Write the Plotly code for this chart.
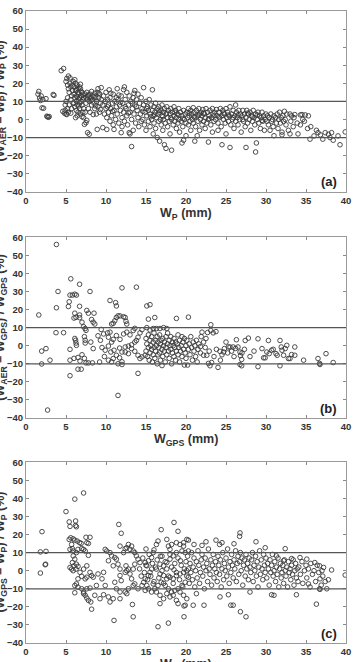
import plotly.graph_objects as go

# ---------------- data ----------------
# panel (a): W_P (mm) vs (W_AER - W_P)/W_P (%)
pts_a = [
    (1.5,14),(1.6,15.5),(1.7,11.8),(1.8,10.5),(1.9,13),(2.0,6.4),(2.2,6.2),(2.1,11),(2.5,11.5),(2.6,1.8),(2.7,1.5),(2.8,1.2),(2.9,1.6),(3.5,13.3),(3.4,13.8),
    (4.4,27),(4.7,28.2),(4.6,4.5),(4.8,3.5),(4.9,5),(5.0,21),(5.1,22.7),(5.2,19),(5.3,17),(5.0,3),(5.1,2.7),(5.3,4),(5.4,8),(5.2,12),(5.4,15),(5.5,20),(5.5,23),(5.3,24),(5.6,18),(5.6,11),(5.7,6),(5.6,3.5),(5.8,16),(5.9,21),(5.9,9),(5.2,6),(5.7,13),(5.8,19),(5.0,10),(4.9,8),
    (6.0,14),(6.0,18),(6.1,7),(6.1,12),(6.2,20),(6.2,16),(6.3,5),(6.3,10),(6.3,13),(6.4,19),(6.4,8),(6.5,15),(6.5,17),(6.5,4),(6.6,11),(6.6,14),(6.7,12),(6.7,9),(6.7,6),(6.8,17),(6.8,3),(6.9,13),(6.9,10),(7.0,15),(7.0,8),(7.0,1.5),(7.1,11),(7.1,14),(7.2,6),(7.2,12),(6.1,22),(6.4,2),(6.8,19.5),(6.2,1),(7.2,1),(7.3,-2.7),(7.5,-1.8),(7.7,-7.3),(7.9,-8.2),(7.6,-0.5),(6.0,9),(6.3,16.5),(6.6,7.5),(6.9,15.5),(7.1,4),(6.4,12.5),(6.7,18),
    (7.4,14),(7.5,12),(7.5,9),(7.6,15),(7.7,11),(7.8,13.5),(7.8,6),(7.9,10),(8.0,14),(8.0,4),(8.1,12),(8.2,8),(8.2,15.5),(8.3,11),(8.4,13),(8.4,2.7),(8.5,9),(8.6,14.5),(8.6,6),(8.7,12),(8.8,3),(8.8,10),(8.9,15),(9.0,17),(9.0,7),(9.1,12),(9.2,4),(9.2,14),(9.3,9),(9.4,11),(9.4,17.6),(8.9,-5.5),(9.6,-4.5),(10.1,-5.5),(7.4,4),(7.7,13),(8.1,10.5),(8.5,12.5),(8.7,7.5),(9.1,14.5),(9.3,5.5),
    (9.6,8),(9.7,13),(9.8,3),(9.9,10),(10.0,6),(10.0,15),(10.1,1),(10.2,11),(10.3,4),(10.3,8),(10.4,16.4),(10.5,-1),(10.5,12),(10.6,6),(10.7,2),(10.8,9),(10.9,-3),(10.9,14),(11.0,5),(11.1,10),(11.2,0),(11.3,7),(11.4,17),(11.4,3),(11.5,11),(11.6,-2),(11.7,8),(11.8,5),(11.9,-7.3),(11.9,13),(12.0,1),(12.1,9),(12.2,4),(12.3,18),(12.3,-1),(12.4,11),(12.5,6),(12.6,2),(12.6,15),(12.7,-3),(12.8,8),(12.9,13),(12.9,-7.3),(13.0,4),(13.1,10),(13.2,-15),(13.2,0),(13.3,6),(13.4,12),(13.4,-6),(13.5,3),(13.6,16),(13.6,8),(13.7,-2),(13.8,11),(13.9,5),(14.0,14),(14.0,1),(10.6,14.5),(11.0,-5.5),(12.0,-4),(13.0,-8),(14.1,-4),(12.2,16.5),(11.6,13.5),(10.2,7),(10.8,4.5),(11.3,12),(11.8,9.5),(12.4,7),(12.8,3.5),(13.3,9),(13.8,7),(13.5,14.5),
    (14.2,9),(14.3,3),(14.4,-1),(14.4,12),(14.5,6),(14.6,0),(14.7,17.6),(14.7,8),(14.8,-3),(14.9,4),(15.0,10),(15.0,-6),(15.1,2),(15.2,7),(15.3,-1),(15.3,5),(15.4,11),(15.5,-4),(15.5,3),(15.6,8),(15.7,0),(15.8,16.4),(15.8,5),(15.9,-8),(15.9,2),(16.0,-2),(16.0,7),(16.1,4),(16.2,-5),(16.2,9),(16.3,1),(16.4,6),(16.4,-10),(16.5,3),(16.6,-1),(16.6,7),(16.7,-12),(16.7,4),(16.8,0),(16.9,5),(16.9,-3),(17.0,8),(17.0,2),(17.1,-6),(17.2,4),(17.2,0),(17.3,6),(17.3,-14),(17.4,-2),(17.5,3),(17.5,-16),(17.6,7),(17.7,1),(17.7,-4),(17.8,5),(17.9,-1),(18.0,3),(18.0,-8),(18.1,6),(18.2,0),(18.2,-17),(18.3,4),(18.4,-3),(18.5,2),(18.5,7),(18.6,-1),(18.7,5),(18.8,-5),(18.8,1),(18.9,3),(19.0,-2),(19.1,6),(19.1,0),(19.2,-7),(19.3,4),(19.4,-1),(19.5,2),(19.6,-4),(19.7,5),(19.8,0),(19.9,3),(20.0,-2),(20.0,-9),(19.5,-13),(19.7,-11.5),
    (14.6,4.5),(15.1,6),(15.6,1.5),(16.1,2.5),(16.6,5),(17.1,1.5),(17.6,3.5),(18.1,1),(18.6,4),(19.1,2.5),(19.6,0.5),
    (20.1,4),(20.2,1),(20.3,-3),(20.3,6),(20.4,2),(20.5,-1),(20.6,5),(20.6,-6),(20.7,3),(20.8,0),(20.9,6.5),(20.9,-2),(21.0,4),(21.1,1),(21.1,-12),(21.2,-4),(21.3,5),(21.4,2),(21.4,-9),(21.5,-1),(21.6,6),(21.7,3),(21.7,-6),(21.8,0),(21.9,4),(22.0,-3),(22.0,2),(22.1,5.5),(22.2,-1),(22.3,3),(22.4,-5),(22.4,1),(22.5,6),(22.6,-2),(22.7,4),(22.8,0),(22.8,-12.5),(22.9,2),(23.0,5),(23.1,-3),(23.2,1),(23.3,6),(23.3,-7),(23.4,3),(23.5,-1),(23.6,4),(23.7,0),(23.8,5.5),(23.9,2),(24.0,-2),(24.0,-6),(24.1,4),(24.2,1),(24.3,6),(24.4,-4),(24.5,2),(24.5,-14),(24.6,5),(24.7,0),(24.8,3),(24.9,-2),(25.0,6),(25.0,-8),(25.1,1),(25.2,4),(25.3,-1),(25.4,2),(25.5,-15.5),(25.5,7),(25.6,-3),(25.7,3),(25.8,0),(25.9,5),(26.0,-5),(26.1,2),(26.2,8),(26.2,-1),(26.3,4),(26.4,1),(26.5,-3),(26.6,5),(26.7,0),(26.8,3),(26.9,-7),(27.0,2),(27.1,5),(27.2,-1),(27.3,3),(27.4,-4),(27.5,-15.5),(27.5,1),(27.6,5),(27.7,-2),(27.8,3),(27.9,0),(28.0,4),(28.1,-6),(28.2,2),(28.3,-1),(28.4,5),(28.5,1),(28.6,-3),(28.7,-18),(28.7,3),(28.8,-13),(28.9,0),(29.0,4),(29.1,-2),(29.2,2),(29.3,-5),(29.4,1),(29.5,4),(29.6,-1),(29.7,2),(29.8,-6),(29.9,0),(30.0,3),
    (20.4,3.5),(21.0,1.5),(21.6,2.5),(22.2,3.5),(22.9,0.5),(23.5,2),(24.1,1.5),(24.7,3.5),(25.3,2.5),(25.9,1),(26.5,2.5),(27.1,0),(27.7,3.5),(28.3,1.5),(28.9,2.5),(29.5,-0.5),
    (30.1,-1),(30.2,2),(30.3,-3),(30.4,1),(30.5,-6),(30.6,3),(30.7,-1),(30.8,0),(30.9,-4),(31.0,2),(31.0,-9),(31.2,1),(31.3,-2),(31.4,3),(31.5,-5),(31.6,0),(31.7,4),(31.8,-2),(31.9,1),(32.0,-7),(32.1,2),(32.2,-1),(32.3,4.5),(32.4,0),(32.5,-3),(32.6,3),(32.8,-6),(33.0,3),(33.1,-1),(33.2,2),(33.4,-4),(33.5,1),(33.6,2.7),(33.9,-2),(34.0,-8),(34.3,2.5),(34.5,2.7),(34.3,-3),(34.6,0),(34.9,2.5),(35.3,2),(35.2,-5),(33.0,-8),(32.0,-8.5),(34.8,-1),
    (35.5,-10.9),(36.0,-9.1),(36.3,-6),(36.5,-7.3),(37.1,-10.9),(37.4,-7.3),(37.8,-8.2),(38.0,-10),(38.2,-7.3),(38.4,-11.5),(39.0,-9.1),(39.25,-14),(39.9,-6.9),(35.6,-4),(36.8,-8.5),
]

# panel (b): W_GPS (mm) vs (W_AER - W_GPS)/W_GPS (%)
pts_b = [
    (1.6,17),(1.96,-3),(2.5,-1.6),(1.96,-10.1),(3.0,-8),(3.75,7.2),(4.7,7.2),(3.8,21),(4.0,30),(3.8,56),(2.7,-35.6),(5.6,37),(5.5,28),(5.8,28),(6.1,28.5),(6.3,28),(5.4,24.3),(5.3,21.7),(6.7,34),(8.0,30),(6.1,18),(6.25,15.7),(6.0,15.3),(6.7,21.8),(6.7,17),(6.7,15.5),(7.6,19.5),(7.8,18),(8.5,18),(8.2,14.5),(8.4,13),(8.6,12),(7.0,13),(7.2,10.5),(7.4,9.5),(7.5,8.5),(7.3,5),(7.4,3),(7.4,1.5),(6.1,4),(6.2,3),(6.25,1.5),(6.3,0.2),(5.5,-2),(5.5,-8),(6.0,-7),(6.5,-6.5),(6.75,-8.5),(7.0,-5),(7.3,-7),(7.5,-9.5),(6.5,-13),(6.9,-13),(5.5,-16.6),(8.1,2),(8.4,-1.6),(7.8,-9.5),(8.3,-9.5),
    (9.7,6.5),(10.2,7.1),(10.5,7.5),(10.7,12),(10.9,12.4),(11.1,13.8),(11.3,15.6),(11.5,16.5),(11.75,16.5),(12.2,16),(12.4,15.6),(12.5,13.5),(12.6,12),(10.5,25),(11.2,23.8),(11.3,22),(12.0,32),(13.8,32.4),(11.5,-27.5),
    (10.3,4.7),(10.7,2),(10.9,3.5),(11.3,5.6),(11.75,3.5),(12.2,6.5),(12.6,7.5),(13.0,6),(13.4,8.4),(13.6,9.6),
    (9.9,-2.5),(10.3,-0.2),(10.6,-3.5),(11.0,-2.5),(11.7,-1.3),(12.0,-3.5),(12.4,-0.7),(12.8,-0.2),(13.2,0.5),(13.6,2),(13.8,2.9),(14.0,4.7),(14.25,7.1),(14.5,8.9),
    (10.3,-8),(10.7,-8.9),(10.9,-7.1),(11.3,-5.3),(11.7,-6.7),(12.0,-8.9),(12.4,-3.5),(12.8,-4.4),(13.2,-1.6),(13.6,-3.1),(14.0,-5.3),(14.25,-7.1),(14.5,-6.2),(14.9,-5.3),
    (11.5,-10),(12.0,-10.4),(14.0,-15.3),(9.0,5.5),(9.3,3),(9.5,-1),(9.8,-6),(9.4,9),(9.2,-9),
    (15.1,22),(15.5,22.7),(15.3,14.7),(16.1,15.6),(15.1,10),(15.5,8.7),(15.9,9.5),(16.3,9.5),(16.75,9.5),(17.2,10),(17.6,9.5),(18.8,15.1),(20.3,15.8),
    (15.0,4),(15.0,-3),(15.1,1),(15.2,-6),(15.3,6),(15.3,-1),(15.4,-8),(15.5,3),(15.5,-4),(15.6,0),(15.7,5),(15.7,-2),(15.8,-9),(15.9,2),(15.9,-5),(16.0,7),(16.0,-1),(16.1,-7),(16.2,3),(16.2,-3),(16.3,0),(16.4,5),(16.4,-10),(16.5,-5),(16.5,2),(16.6,-1),(16.7,6),(16.7,-4),(16.8,1),(16.8,-8),(16.9,3),(17.0,-2),(17.0,-11),(17.1,4),(17.1,-6),(17.2,0),(17.3,2),(17.3,-3),(17.4,-9),(17.5,5),(17.5,-1),(17.6,-5),(17.7,1),(17.7,7),(17.8,-3),(17.9,3),(17.9,-7),(18.0,0),(18.1,-2),(18.1,5),(18.2,-10),(18.3,2),(18.3,-4),(18.4,0),(18.5,-6),(18.5,4),(18.6,-1),(18.7,2),(18.7,-8),(18.8,-3),(18.9,1),(19.0,6),(19.0,-5),(19.1,-1),(19.2,3),(19.2,-9),(19.3,-3),(19.4,0),(19.5,5),(19.5,-6),(19.6,2),(19.7,-2),(19.8,-10.7),(19.8,4),(19.9,-4),(20.0,0),(20.0,-7),(20.1,3),(20.2,-10.7),(20.3,-2),(20.4,1),(20.5,-5),(20.6,5),(20.7,-1),(20.8,-8),(20.9,2),(21.0,-3),(21.1,0),(21.2,-6),(21.3,3),(21.4,-9),(21.5,-2),(21.6,1),(21.8,-4),(22.0,7.5),(21.9,5),
    (22.7,7.3),(23.1,11.6),(23.1,8.4),(23.4,7.1),(23.75,7.8),(22.2,-5.3),(22.6,-5.3),(22.8,-9.8),(23.0,-11.1),(23.2,-9.3),(24.0,-12),(24.25,-3.1),(24.7,-3.5),(24.8,-1.6),(25.0,2),(25.3,-0.7),(25.5,-0.7),(25.9,-0.7),(26.3,3.3),(26.5,-0.7),(26.75,-3.5),(26.8,-5.5),(26.96,-7.6),(26.75,-10.4),(26.96,-11.1),(27.4,2.9),(27.8,4.2),(29.0,3.8),(29.5,-1.6),(29.7,-6.7),(29.9,-6.7),(30.1,-3.5),(30.3,2.9),(30.4,-4.4),(30.7,-2.5),(30.9,-2),(31.25,-4.4),(31.4,-5.3),(31.75,2.9),(31.9,-0.7),(32.0,-2.5),(32.2,-5.3),(32.4,-1.6),(32.6,0.2),(32.8,-7.1),(33.0,-7.1),(33.2,-4.9),(33.6,-0.7),(33.6,-5.3),(31.75,-11.1),(29.0,-11.6),(34.7,-8),(36.5,-7.1),(36.7,-9.8),(36.75,-10.4),(37.5,-4.4),(38.4,-9.3),
    (22.4,-1),(22.9,-3),(23.5,-6),(23.8,-2),(24.3,-8),(24.5,-5),(25.2,-4),(25.7,-3),(26.0,-6),(26.2,-1.5),(27.0,-4),(27.3,-2),(28.0,-6),(28.5,-3),(22.2,2),(21.8,-0.5),(22.5,4),
]

# panel (c): W_P (mm) vs (W_GPS - W_P)/W_P (%)
pts_c = [
    (1.8,-1.3),(1.8,10.4),(2.0,21.6),(2.5,10.7),(2.4,3.3),(2.45,3.6),
    (5.0,32.7),(6.1,39.6),(7.2,43),(5.4,27),(5.5,24.5),(6.2,27.5),(6.2,25),(6.3,24.3),(7.5,18.5),
    (5.4,17.3),(5.6,18.2),(5.9,17.6),(6.1,16.9),(6.4,16.4),(6.7,15.5),(6.9,15.1),(5.7,14.5),(5.8,12.2),(5.5,11.8),(5.9,10.9),(6.5,11.8),(6.3,10),(6.96,12.2),(7.2,11.8),(7.4,10.9),(7.6,15.5),(7.8,15.1),(8.0,18.5),(7.8,8.5),
    (5.9,8.2),(6.1,6.4),(5.8,4.5),(6.0,2.7),(6.3,3.6),(6.5,2.4),(6.25,0.9),(5.7,0.9),(5.5,1.8),(5.9,0),(6.75,-0.9),(7.2,0.9),(7.6,2.7),(8.0,-0.9),(8.2,-2.7),(7.6,-3.6),(7.4,-4.5),(6.96,-3.1),(6.5,-4.5),(6.3,-7.3),(6.1,-8.2),(6.5,-9.1),(6.96,-10),(7.6,-10),(8.0,-9.6),(7.2,-12.7),(7.4,-13.6),(7.6,-15.1),(7.8,-16.4),(8.1,-17.3),(8.2,-21.3),(7.2,-11.8),(6.1,-12.2),(8.8,-8.2),(8.6,-13.6),(8.4,-3.6),(9.0,-1.8),(9.7,-0.9),(9.5,-4.5),(9.9,-8.2),
    (9.9,11.8),(10.1,10.9),(10.5,10),(10.7,8.2),(11.1,7.3),(11.3,6.4),(10.3,5.5),(10.9,2.7),(11.5,3.6),(11.75,0.9),(11.75,13.6),(11.75,-2.7),(11.1,-6.4),(11.3,-10),(11.75,-11.8),(10.9,-15.5),(10.5,-17.3),(10.3,-14.5),(9.7,-13.3),(9.25,-15.5),(11.75,-15.5),(11.9,-5.5),(12.4,-0.9),(12.6,0),(12.8,0.9),(12.5,2.7),(12.2,10),(12.4,12.2),(12.6,12.7),(13.0,11.8),(12.8,14.5),(13.2,13.6),(13.4,10.9),(13.6,10),(13.8,8.2),(14.0,6.4),(14.25,4.5),(13.6,3.6),(13.4,0.9),(13.0,-1.8),(13.2,-4.5),(13.6,-7.3),(14.0,-10),(13.4,-8.2),(12.8,-10),(12.4,-11.8),(12.6,-12.7),(13.3,-18.7),(13.4,-25.5),(11.0,-27.5),(11.6,25.6),(11.9,20.7),
    (14.5,-8.2),(14.7,-6.4),(14.9,-4.5),(15.1,-8.2),(15.3,-2.7),(15.5,-0.9),(15.7,0.9),(15.1,2.7),(14.9,4.5),(15.3,5.5),(15.7,7.3),(15.9,10),(16.3,14.5),(16.5,16.4),(16.9,22.7),(17.6,17.3),(17.8,13.6),(18.0,11.8),(18.2,14.5),(18.5,26.7),(19.0,21.8),(18.8,15.5),(19.25,14.5),(19.7,15.5),(20.1,17.3),(20.3,10.9),(19.9,10),(19.5,10.9),(18.8,10),(18.4,8.2),(18.0,6.4),(17.6,4.5),(17.2,2.7),(16.75,3.6),(16.3,0.9),(16.75,-1.8),(17.2,-2.7),(17.6,-4.5),(18.0,-3.6),(18.4,-4.5),(18.8,-2.7),(19.25,-1.8),(19.7,-0.9),(20.1,0),(20.3,-3.6),(19.9,-6.4),(19.5,-8.2),(19.0,-10),(18.6,-10.9),(18.2,-11.8),(17.8,-10),(17.4,-8.2),(16.9,-6.4),(16.5,-8.2),(16.1,-10),(16.3,-11.8),(16.75,-13.6),(17.2,-15.5),(17.6,-12.7),(18.0,-14.5),(18.4,-13.6),(18.8,-16.4),(19.25,-11.8),(19.7,-13.6),(20.1,-15.5),(19.9,-19.1),(19.0,-18.2),(16.75,-18.2),(15.9,-7.3),(15.7,-11.8),(15.3,-10),(14.9,-10.9),(16.5,-31),(17.8,-29),(19.75,-25.5),
    (14.2,1),(14.4,-3),(14.6,7),(14.8,-1),(15.0,3),(15.2,-5),(15.4,9),(15.6,-3),(15.8,4),(16.0,-6),(16.2,2),(16.4,6),(16.6,-4),(16.8,8),(17.0,0),(17.2,-7),(17.4,5),(17.6,1),(17.8,-3),(18.0,9),(18.2,2),(18.4,-7),(18.6,4),(18.8,-1),(19.0,7),(19.2,-5),(19.4,3),(19.6,-9),(19.8,1),(15.0,12),(16.0,11.5),(17.0,8),(18.5,0.5),(19.3,5.5),
    (20.3,16.9),(22.5,16),(23.75,16.9),(24.2,14.5),(24.5,15.5),(26.0,14.9),(26.75,20.9),(26.7,19),(28.75,16),(29.9,12.7),(32.4,12.2),(22.0,14),(21.0,14.5),(19.7,13.6),(19.75,-19.5),(20.9,-19.1),(22.25,-19.1),(25.6,-19.1),(25.9,-19.1),(26.8,-22.7),(27.5,-25.5),(24.25,-14.5),(21.3,-12.7),(25.3,-13.3),(28.0,-11.8),(30.7,-13.3),(31.0,-13.6),(33.8,-13.3),(36.3,-18.5),(36.7,-10),(36.75,-10.3),(37.6,-10),(38.2,0.4),(39.9,-2.4),(35.3,-7.3),(36.75,-4.5),(37.0,0),(37.2,1.8),(36.7,2.7),(36.1,4.5),(35.1,6.4),(34.25,7.3),(33.2,6.7),(32.2,5.5),(31.3,8.2),
    (20.0,5),(20.1,-3),(20.2,8),(20.3,1),(20.4,-7),(20.5,4),(20.6,-1),(20.7,10),(20.8,-5),(20.9,2),(21.0,7),(21.1,-9),(21.2,0),(21.3,5),(21.4,-4),(21.5,11),(21.6,3),(21.7,-7),(21.8,-1),(21.9,6),(22.0,9),
    (22.1,-3),(22.2,2),(22.3,-10),(22.4,7),(22.5,0),(22.6,4),(22.7,-6),(22.8,12),(22.9,1),(23.0,-2),(23.1,6),(23.2,-8),(23.3,3),(23.4,9),(23.5,-4),(23.6,1),(23.7,5),(23.8,-1),(23.9,-6),(24.0,8),
    (24.1,3),(24.2,-2),(24.3,6),(24.4,-9),(24.5,1),(24.6,10),(24.7,-5),(24.8,4),(24.9,0),(25.0,7),(25.1,-3),(25.2,12),(25.3,2),(25.4,-7),(25.5,5),(25.6,-1),(25.7,9),(25.8,3),(25.9,-4),(26.0,6),
    (26.1,1),(26.2,11),(26.3,-6),(26.4,4),(26.5,8),(26.6,-2),(26.7,5),(26.8,10),(26.9,0),(27.0,7),(27.1,-8),(27.2,3),(27.3,6),(27.4,-3),(27.5,9),(27.6,1),(27.7,4),(27.8,-5),(27.9,7),(28.0,2),
    (28.1,-1),(28.2,6),(28.3,10),(28.4,-6),(28.5,3),(28.6,0),(28.7,8),(28.8,-3),(28.9,5),(29.0,-9),(29.1,2),(29.2,11),(29.3,-2),(29.4,6),(29.5,1),(29.6,-5),(29.7,9),(29.8,3),(29.9,-1),(30.0,7),
    (30.1,-4),(30.2,4),(30.3,1),(30.4,-8),(30.5,6),(30.6,-1),(30.7,3),(30.8,9),(30.9,-3),(31.0,0),(31.1,5),(31.2,-6),(31.3,2),(31.4,-2),(31.5,7),(31.6,-9),(31.7,1),(31.8,4),(31.9,-4),(32.0,-1),
    (32.1,3),(32.2,-7),(32.3,6),(32.4,0),(32.5,-3),(32.6,2),(32.7,-9),(32.8,5),(32.9,-1),(33.0,1),(33.1,-5),(33.2,3),(33.3,-2),(33.4,6),(33.5,-8),(33.6,0),(33.7,4),(33.8,-4),(33.9,1),(34.0,-6),
    (34.1,2),(34.3,-2),(34.5,5),(34.6,-7),(34.8,0),(35.0,3),(35.1,-4),(35.3,1),(35.5,-9),(35.6,4),(35.8,-2),(36.0,0),(36.2,-6),(36.4,3),(36.6,-1),(36.9,-8),(37.1,-3),(37.4,-6),(37.8,-5),
]

x_range = [0, 40]
y_range = [-40, 60]
x_ticks = [0, 5, 10, 15, 20, 25, 30, 35, 40]
y_ticks = [-40, -30, -20, -10, 0, 10, 20, 30, 40, 50, 60]
limit_lines = [10, -10]

x_titles = ["W<sub>P</sub> (mm)", "W<sub>GPS</sub> (mm)", "W<sub>P</sub> (mm)"]
y_titles = ["(W<sub>AER</sub> – W<sub>P</sub>) / W<sub>P</sub> (%)",
            "(W<sub>AER</sub> – W<sub>GPS</sub>) / W<sub>GPS</sub> (%)",
            "(W<sub>GPS</sub> – W<sub>P</sub>) / W<sub>P</sub> (%)"]
panel_labels = ["(a)", "(b)", "(c)"]

# ---------------- figure ----------------
domains = [[0.714, 1.0], [0.356, 0.642], [0.0, 0.286]]
FONT = "Liberation Sans, Arial, sans-serif"

fig = go.Figure()
annotations = []
shapes = []
all_pts = [pts_a, pts_b, pts_c]

for i, pts in enumerate(all_pts):
    n = "" if i == 0 else str(i + 1)
    xs = [p[0] for p in pts]
    ys = [p[1] for p in pts]
    fig.add_trace(go.Scatter(
        x=xs, y=ys, mode="markers", xaxis="x" + n, yaxis="y" + n,
        marker=dict(symbol="circle-open", size=4.6, color="#3a3a3a",
                    line=dict(width=0.9)),
        showlegend=False, hoverinfo="skip"))
    common = dict(showline=True, linecolor="#9a9a9a", linewidth=1, mirror="ticks",
                  ticks="inside", ticklen=3, tickcolor="#8a8a8a", tickwidth=1,
                  showgrid=False, zeroline=False,
                  tickfont=dict(family=FONT, size=9.5, color="#333333", weight="bold"))
    fig.layout["xaxis" + n] = dict(common, range=x_range, tickvals=x_ticks,
                                   domain=[0, 1], anchor="y" + n)
    fig.layout["yaxis" + n] = dict(common, range=y_range, tickvals=y_ticks,
                                   domain=domains[i], anchor="x" + n)
    for yv in limit_lines:
        shapes.append(dict(type="line", xref="x" + n + " domain", yref="y" + n,
                           x0=0, x1=1, y0=yv, y1=yv,
                           line=dict(color="#555555", width=1.2)))
    annotations.append(dict(text=x_titles[i], xref="x" + n + " domain", yref="y" + n + " domain",
                            x=0.5, y=0, yanchor="middle", yshift=-22, showarrow=False,
                            font=dict(family=FONT, size=12.5, color="#333333", weight="bold")))
    annotations.append(dict(text=y_titles[i], xref="x" + n + " domain", yref="y" + n + " domain",
                            x=0, y=0.5, xanchor="center", yanchor="middle", xshift=-25,
                            textangle=-90, showarrow=False,
                            font=dict(family=FONT, size=12.5, color="#333333", weight="bold")))
    annotations.append(dict(text=panel_labels[i], xref="x" + n + " domain", yref="y" + n + " domain",
                            x=0.978, y=0.055, xanchor="right", yanchor="middle", showarrow=False,
                            font=dict(family=FONT, size=13, color="#222222", weight="bold")))

fig.update_layout(width=356, height=662, margin=dict(l=26, r=9, t=5, b=17),
                  paper_bgcolor="white", plot_bgcolor="white",
                  shapes=shapes, annotations=annotations)

fig.write_html("out.html")
